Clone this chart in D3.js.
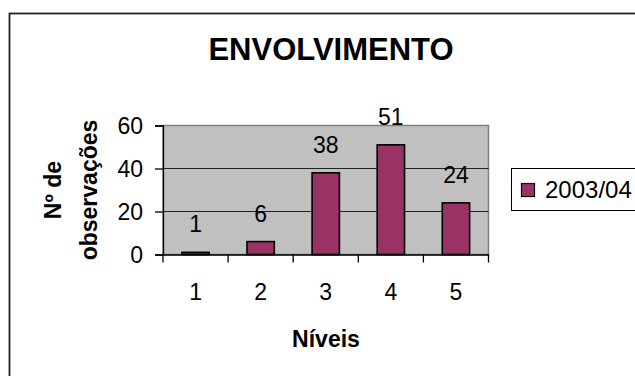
<!DOCTYPE html>
<html>
<head>
<meta charset="utf-8">
<script src="https://cdn.jsdelivr.net/npm/d3@7"></script>
<style>
  body { margin: 0; background: #fff; }
  text { font-family: "Liberation Sans", Arial, sans-serif; fill: #000; }
</style>
</head>
<body>
<div id="chart"></div>
<script>
// chart data
const niveis = ["1", "2", "3", "4", "5"];
const observacoes = [1, 6, 38, 51, 24];
const yTicks = [0, 20, 40, 60];
const serieNome = "2003/04";

const width = 635;
const height = 376;
const plot = {left: 163, right: 488.5, top: 125.5, bottom: 254.5};
const barColor = "#993366";

const svg = d3.select("#chart")
  .append("svg")
  .attr("width", width)
  .attr("height", height);

// outer frame (runs past the window on the right and bottom)
svg.append("rect")
  .attr("x", 9.5).attr("y", 13.5)
  .attr("width", 700).attr("height", 400)
  .attr("fill", "#fff")
  .attr("stroke", "#222")
  .attr("stroke-width", 1.8);

// scales
const x = d3.scaleBand()
  .domain(niveis)
  .range([plot.left, plot.right])
  .padding(0);

const y = d3.scaleLinear()
  .domain([0, 60])
  .range([plot.bottom, plot.top]);

// plot area background
svg.append("rect")
  .attr("x", plot.left).attr("y", plot.top)
  .attr("width", plot.right - plot.left)
  .attr("height", plot.bottom - plot.top)
  .attr("fill", "#c0c0c0")
  .attr("stroke", "#808080")
  .attr("stroke-width", 1.5);

// gridlines
svg.append("g")
  .selectAll("line")
  .data(yTicks.filter(d => d > 0 && d < 60))
  .join("line")
    .attr("x1", plot.left).attr("x2", plot.right)
    .attr("y1", d => y(d)).attr("y2", d => y(d))
    .attr("stroke", "#222")
    .attr("stroke-width", 1.2);

// bars
const barW = x.bandwidth() * 0.42;
svg.append("g")
  .selectAll("rect")
  .data(observacoes)
  .join("rect")
    .attr("x", (d, i) => x(niveis[i]) + (x.bandwidth() - barW) / 2)
    .attr("y", d => y(d))
    .attr("width", barW)
    .attr("height", d => plot.bottom - y(d))
    .attr("fill", barColor)
    .attr("stroke", "#000")
    .attr("stroke-width", 1.6);

// value labels
svg.append("g")
  .selectAll("text")
  .data(observacoes)
  .join("text")
    .attr("x", (d, i) => x(niveis[i]) + x.bandwidth() / 2)
    .attr("y", d => y(d) - 20)
    .attr("text-anchor", "middle")
    .attr("font-size", "23px")
    .text(d => d);

// y axis
const yAxis = svg.append("g")
  .attr("transform", `translate(${plot.left},0)`)
  .call(d3.axisLeft(y).tickValues(yTicks).tickSize(8).tickPadding(12));
yAxis.select(".domain").attr("stroke", "#000").attr("stroke-width", 1.3);
yAxis.selectAll(".tick line").attr("stroke", "#000").attr("stroke-width", 1.3);
yAxis.selectAll("text")
  .attr("font-size", "23px")
  .attr("font-family", "Liberation Sans, Arial, sans-serif")
  .attr("dy", "0.36em");

// x axis: labels at centres, ticks at category boundaries
const xAxis = svg.append("g")
  .attr("transform", `translate(0,${plot.bottom})`)
  .call(d3.axisBottom(x).tickSize(0).tickSizeOuter(0));
xAxis.select(".domain").attr("stroke", "#000").attr("stroke-width", 1.3);
xAxis.selectAll("text")
  .attr("font-size", "23px")
  .attr("font-family", "Liberation Sans, Arial, sans-serif")
  .attr("y", 45.5)
  .attr("dy", 0);

const bounds = niveis.map(n => x(n)).concat([plot.right]);
xAxis.append("g")
  .selectAll("line")
  .data(bounds)
  .join("line")
    .attr("x1", d => d).attr("x2", d => d)
    .attr("y1", 0).attr("y2", 8)
    .attr("stroke", "#000")
    .attr("stroke-width", 1.3);

// title
svg.append("text")
  .attr("x", 331).attr("y", 60)
  .attr("text-anchor", "middle")
  .attr("font-size", "31px")
  .attr("font-weight", "bold")
  .text("ENVOLVIMENTO");

// x axis title
svg.append("text")
  .attr("x", 326).attr("y", 347)
  .attr("text-anchor", "middle")
  .attr("font-size", "23px")
  .attr("font-weight", "bold")
  .text("Níveis");

// y axis title, two lines
const yTitle = svg.append("text")
  .attr("transform", `translate(0,${(plot.top + plot.bottom) / 2}) rotate(-90)`)
  .attr("text-anchor", "middle")
  .attr("font-size", "23px")
  .attr("font-weight", "bold");
yTitle.append("tspan").attr("x", 0).attr("y", 61).text("Nº de");
yTitle.append("tspan").attr("x", 0).attr("y", 97).text("observações");

// legend
const legend = svg.append("g");
legend.append("rect")
  .attr("x", 511.5).attr("y", 168.5)
  .attr("width", 140).attr("height", 42)
  .attr("fill", "#fff")
  .attr("stroke", "#000")
  .attr("stroke-width", 1);
legend.append("rect")
  .attr("x", 521.5).attr("y", 183.5)
  .attr("width", 13).attr("height", 13)
  .attr("fill", barColor)
  .attr("stroke", "#000")
  .attr("stroke-width", 1.2);
legend.append("text")
  .attr("x", 545).attr("y", 198)
  .attr("font-size", "24px")
  .text(serieNome);
</script>
</body>
</html>
